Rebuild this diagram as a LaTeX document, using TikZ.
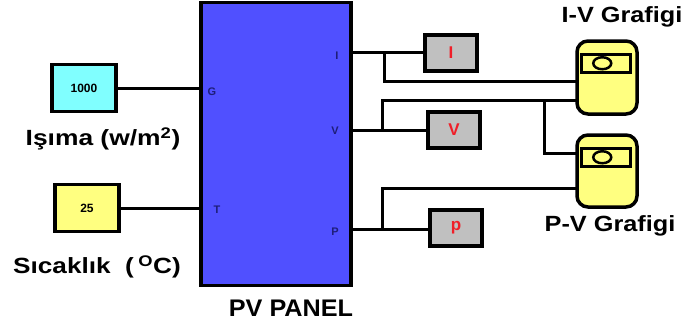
\documentclass[tikz,border=0pt]{standalone}
\usepackage{graphicx}
\usepackage{fontspec}
\setmainfont{Liberation Sans}
\usetikzlibrary{shapes.geometric}
\definecolor{panelblue}{RGB}{80,80,255}
\definecolor{cyanbox}{RGB}{128,255,255}
\definecolor{yelbox}{RGB}{255,255,128}
\definecolor{graybox}{RGB}{192,192,192}
\definecolor{portblue}{RGB}{30,30,120}
\definecolor{redtxt}{RGB}{240,30,40}
\tikzset{
  wire/.style={line width=3pt, line cap=rect},
  constbox/.style={draw, line width=3.5pt, minimum width=64pt, minimum height=47pt, inner sep=0pt, font=\fontsize{12}{13}\selectfont\bfseries},
  dispbox/.style={draw, line width=3.5pt, fill=graybox, minimum width=52pt, minimum height=36pt, inner sep=0pt, text=redtxt, font=\fontsize{17}{18}\selectfont\bfseries},
  scopebox/.style={draw, line width=3.5pt, fill=yelbox, rounded corners=11pt, minimum width=60pt, inner sep=0pt},
  portlbl/.style={text=portblue, font=\fontsize{11}{12}\selectfont\bfseries, inner sep=0pt},
  biglbl/.style={font=\fontsize{22}{24}\selectfont\bfseries, inner sep=0pt}
}
\begin{document}
\begin{tikzpicture}[x=1pt,y=-1pt]
\useasboundingbox (0,0) rectangle (683,324);
% PV panel
\node[draw, line width=3.5pt, fill=panelblue, minimum width=150pt, minimum height=283pt, inner sep=0pt] (panel) at (276,144) {};
\node[portlbl] (lG) at (212,92) {G};
\node[portlbl] (lT) at (217,210) {T};
\node[portlbl] (lI) at (337,56) {I};
\node[portlbl] (lV) at (335,131) {V};
\node[portlbl] (lP) at (335,232) {P};
\node[biglbl, font=\fontsize{24}{26}\selectfont\bfseries] (tpanel) at (291,308) {\scalebox{1.05}[1]{PV PANEL}};
% constants
\node[constbox, fill=cyanbox] (k1000) at (84,88) {1000};
\node[constbox, fill=yelbox] (k25) at (87,208) {25};
\node[biglbl] (tisima) at (103,139) {\scalebox{1.2}[1]{Işıma (w/m\textsuperscript{2})}};
\node[biglbl] (tsic) at (97,267) {\scalebox{1.19}[1]{Sıcaklık~~(\,\textsuperscript{O}C)}};
\draw[wire] (k1000.east) -- (k1000.east -| panel.west);
\draw[wire] (k25.east) -- (k25.east -| panel.west);
% displays
\node[dispbox] (dI) at (451,53) {I};
\node[dispbox] (dV) at (454,130) {V};
\node[dispbox] (dP) at (456,228) {p};
% scopes
\node[scopebox, minimum height=73pt] (sIV) at (607,77.5) {};
\node[scopebox, minimum height=72pt] (sPV) at (607,171) {};
\foreach \s in {sIV,sPV}{
  \draw[line width=3pt] ([shift={(6,15)}]\s.north west) rectangle ([shift={(55,33)}]\s.north west);
  \draw[line width=2.5pt, fill=yelbox] ([shift={(27,24)}]\s.north west) ellipse [x radius=9pt, y radius=6pt];
}
\node[biglbl] (tiv) at (622,17) {\scalebox{1.15}[1]{I-V Grafigi}};
\node[biglbl] (tpv) at (610,226) {\scalebox{1.15}[1]{P-V Grafigi}};
% ports
\coordinate (pI) at (352,52);
\coordinate (pV) at (352,130);
\coordinate (pP) at (352,229);
\coordinate (bI) at (384,52);
\coordinate (bV) at (382,130);
\coordinate (bP) at (382,229);
\coordinate (bV2) at (544,100);
\draw[wire] (pI) -- (pI -| dI.west);
\draw[wire] (pV) -- (pV -| dV.west);
\draw[wire] (pP) -- (pP -| dP.west);
\draw[wire] (bI) -- (384,81) -- (sIV.west |- 0,81);
\draw[wire] (bV) -- (382,100) -- (sIV.west |- 0,100);
\draw[wire] (bV2) -- (544,153) -- (sPV.west |- 0,153);
\draw[wire] (bP) -- (382,188) -- (sPV.west |- 0,188);
\end{tikzpicture}
\end{document}
